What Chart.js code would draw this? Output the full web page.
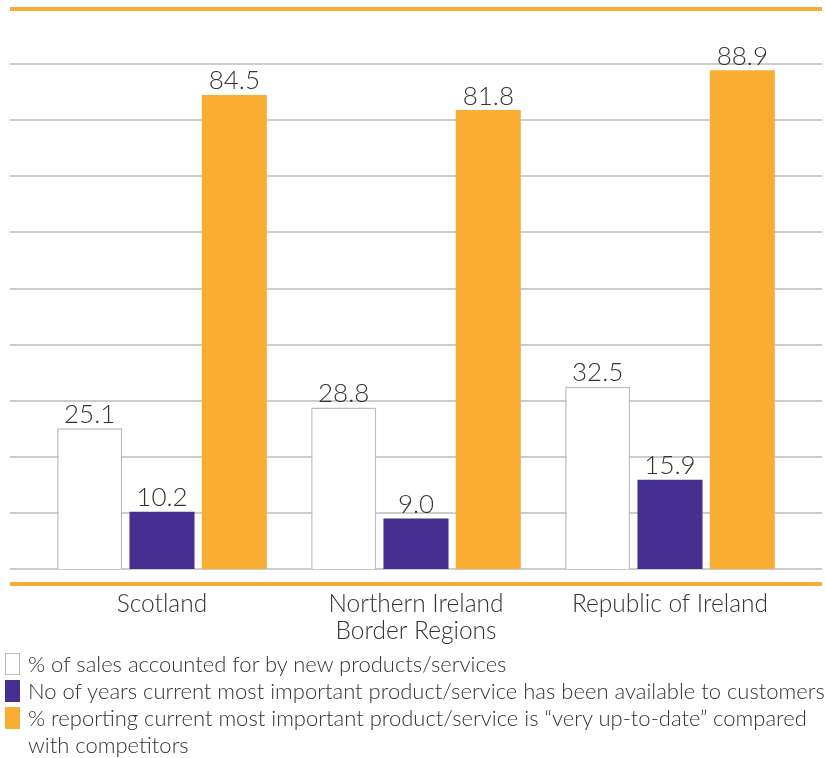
<!DOCTYPE html>
<html>
<head>
<meta charset="utf-8">
<script src="https://cdn.jsdelivr.net/npm/chart.js@4"></script>
<style>
    body { margin: 0; background: #fff; font-family: Lato, sans-serif; }
    #wrap { position: relative; width: 825px; height: 666px; }
    #legend { position: absolute; top: 650px; left: 0; width: 825px; margin: 0; padding: 0 0 0 5px; box-sizing: border-box; list-style: none; font-weight: 300; font-size: 22px; line-height: 27px; color: #333; white-space: normal; }
    #legend li { display: flex; align-items: flex-start; }
    #legend .box { flex: none; width: 15px; height: 22px; margin: 3px 8px 0 0; box-sizing: border-box; }
</style>
</head>
<body>
<div id="wrap"><canvas id="chart"></canvas></div>
<ul id="legend"></ul>
<script>
const categories = ['Scotland', ['Northern Ireland', 'Border Regions'], 'Republic of Ireland'];
const seriesNames = [
    '% of sales accounted for by new products/services',
    'No of years current most important product/service has been available to customers',
    '% reporting current most important product/service is \u201cvery up-to-date\u201d compared with competitors'
];
const salesNew = [25.1, 28.8, 32.5];
const yearsAvailable = [10.2, 9.0, 15.9];
const veryUpToDate = [84.5, 81.8, 88.9];
const yTicks = [0, 10, 20, 30, 40, 50, 60, 70, 80, 90, 100];

const orange = '#F9AE33';
const purple = '#472F92';
const gridGrey = '#bcbcbc';

// grid lines run wider than the bar area, so draw them ourselves
const gridPlugin = {
    id: 'wideGrid',
    beforeDatasetsDraw(chart) {
        const ctx = chart.ctx;
        const y = chart.scales.y;
        ctx.save();
        yTicks.forEach(v => {
            const py = Math.round(y.getPixelForValue(v));
            if (v === 100) {
                ctx.strokeStyle = orange;
                ctx.lineWidth = 4;
            } else {
                ctx.strokeStyle = gridGrey;
                ctx.lineWidth = 1.5;
            }
            ctx.beginPath();
            ctx.moveTo(10, py + (v === 100 ? 1 : 0));
            ctx.lineTo(822, py + (v === 100 ? 1 : 0));
            ctx.stroke();
        });
        // orange rule under the baseline
        const base = Math.round(y.getPixelForValue(0)) + 15;
        ctx.strokeStyle = orange;
        ctx.lineWidth = 4;
        ctx.beginPath();
        ctx.moveTo(10, base);
        ctx.lineTo(822, base);
        ctx.stroke();
        ctx.restore();
    }
};

const valueLabels = {
    id: 'valueLabels',
    afterDatasetsDraw(chart) {
        const ctx = chart.ctx;
        ctx.save();
        ctx.font = '300 26px Lato';
        ctx.fillStyle = '#333';
        ctx.textAlign = 'center';
        ctx.textBaseline = 'bottom';
        chart.data.datasets.forEach((ds, i) => {
            chart.getDatasetMeta(i).data.forEach((bar, j) => {
                ctx.fillText(ds.data[j].toFixed(1), bar.x, bar.y - 1);
            });
        });
        ctx.restore();
    }
};

const chart = new Chart(document.getElementById('chart').getContext('2d'), {
    type: 'bar',
    data: {
        labels: categories,
        datasets: [{
            label: seriesNames[0],
            data: salesNew,
            backgroundColor: '#ffffff',
            borderColor: gridGrey,
            borderWidth: 1.5,
            barPercentage: 0.9,
            categoryPercentage: 0.854
        }, {
            label: seriesNames[1],
            data: yearsAvailable,
            backgroundColor: purple,
            borderColor: purple,
            borderWidth: 0,
            barPercentage: 0.9,
            categoryPercentage: 0.854
        }, {
            label: seriesNames[2],
            data: veryUpToDate,
            backgroundColor: orange,
            borderColor: orange,
            borderWidth: 0,
            barPercentage: 0.9,
            categoryPercentage: 0.854
        }]
    },
    options: {
        responsive: true,
        maintainAspectRatio: false,
        animation: false,
        layout: {
            padding: { left: 35, right: 28, top: 8, bottom: 0 }
        },
        scales: {
            x: {
                grid: { display: false, drawTicks: false },
                border: { display: false },
                ticks: {
                    color: '#333',
                    padding: 22,
                    font: { family: 'Lato', size: 24.5, weight: 300, lineHeight: 1.08 },
                    maxRotation: 0
                }
            },
            y: {
                display: false,
                min: 0,
                max: 100,
                ticks: { stepSize: 10 }
            }
        },
        plugins: {
            legend: { display: false },
            title: { display: false },
            tooltip: { enabled: false }
        }
    },
    plugins: [gridPlugin, valueLabels]
});

// legend as html so the long label can wrap
const legendEl = document.getElementById('legend');
chart.data.datasets.forEach(ds => {
    const li = document.createElement('li');
    const box = document.createElement('span');
    box.className = 'box';
    box.style.background = ds.backgroundColor;
    box.style.border = ds.borderWidth ? '1.5px solid ' + ds.borderColor : 'none';
    const txt = document.createElement('span');
    txt.textContent = ds.label;
    li.appendChild(box);
    li.appendChild(txt);
    legendEl.appendChild(li);
});
</script>
</body>
</html>
